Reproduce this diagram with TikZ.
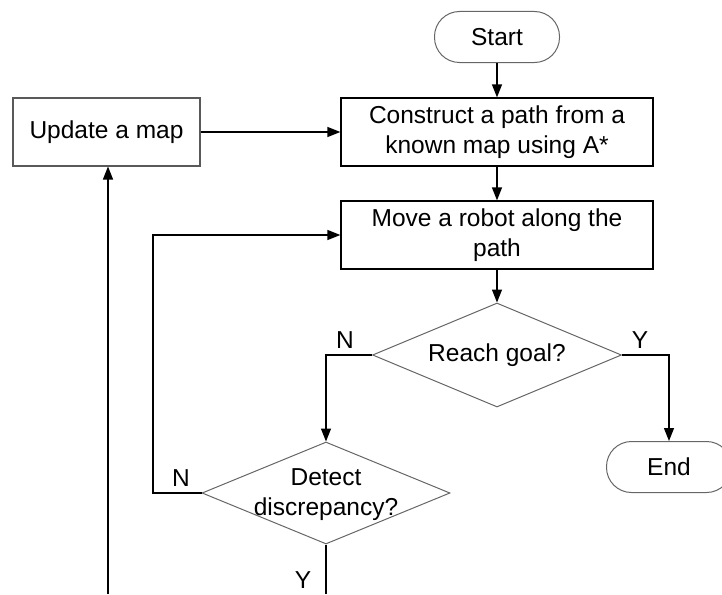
\documentclass[tikz,border=0pt]{standalone}
\usepackage{fontspec}
\setmainfont{Liberation Sans}
\usetikzlibrary{arrows.meta,shapes.geometric}

\tikzset{
  flow/.style={line width=1.3pt, draw=black, -{Triangle[length=13pt,width=10pt]}},
  wire/.style={line width=1.3pt, draw=black},
  procbox/.style={draw=black, line width=1.2pt, rectangle, inner sep=0pt, align=center,
    minimum width=312pt, minimum height=68pt},
  sidebox/.style={draw=black!65, line width=1.1pt, rectangle, inner sep=0pt, align=center,
    minimum width=187pt, minimum height=68pt},
  terminal/.style={draw=black!60, line width=1pt, rectangle, rounded corners=25pt, inner sep=0pt,
    minimum width=125pt, minimum height=51pt},
  decision/.style={draw=black!60, line width=1pt, diamond, inner sep=0pt},
  caption/.style={inner sep=0pt, align=center},
  tag/.style={inner sep=0pt}
}

\begin{document}
\begin{tikzpicture}[x=1pt, y=-1pt, font=\fontsize{24.5}{30}\selectfont]
  \useasboundingbox (0,0) rectangle (722,594);
  \clip (0,0) rectangle (722,594);

  % process steps
  \node[terminal] (start) at (497,37) {Start};
  \node[procbox] (construct) at (497,132) {Construct a path from a\\known map using A*};
  \node[sidebox] (update) at (106.5,132) {Update a map};
  \node[procbox] (move) at (497,235) {Move a robot along the\\path};
  \node[terminal] (end) at (669,467) {End};

  % decisions: outline and wording as separate nodes so the text may overhang
  \node[decision, minimum width=249pt, minimum height=104pt] (goal) at (497,355) {};
  \node[caption] (goaltext) at (goal.center) {Reach goal?};
  \node[decision, minimum width=248pt, minimum height=102pt] (detect) at (326,493) {};
  \node[caption] (detecttext) at (326,495) {Detect\\discrepancy?};

  % bend points and loose ends
  \coordinate (loopcorner) at (153,493);
  \coordinate (loopbase) at (108,594);
  \coordinate (detectexit) at (326,594);

  % main sequence
  \draw[flow] (start.south) -- (construct.north);
  \draw[flow] (construct.south) -- (move.north);
  \draw[flow] (move.south) -- (goal.north);
  \draw[flow] (update.east) -- (construct.west);

  % branches of "Reach goal?"
  \draw[flow] (goal.west) -| (detect.north);
  \draw[flow] (goal.east) -| (end.north);
  \node[tag] (goalno) at (345,340) {N};
  \node[tag] (goalyes) at (640,340) {Y};

  % branches of "Detect discrepancy?"
  \draw[flow] (detect.west) -- (loopcorner) |- (move.west);
  \node[tag] (detectno) at (181,478) {N};
  \draw[wire] (detect.south) -- (detectexit);
  \node[tag] (detectyes) at (303,580) {Y};

  % return path into the map update
  \draw[flow] (loopbase) -- (loopbase |- update.south);
\end{tikzpicture}
\end{document}
